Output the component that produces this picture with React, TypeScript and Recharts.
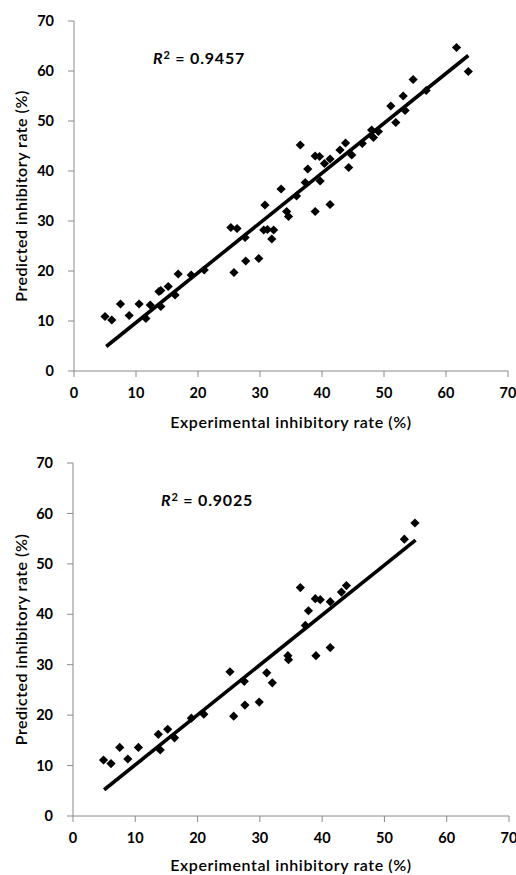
import { Label, Scatter, ScatterChart, XAxis, YAxis } from "recharts";

const AXIS_TICKS = [0, 10, 20, 30, 40, 50, 60, 70];

// training set: experimental vs predicted inhibitory rate (%)
const TRAIN_EXP = [
  5.0, 6.1, 7.5, 8.9, 10.5, 11.6, 12.3, 13.7, 14.0, 14.0, 15.2, 16.3, 16.8, 18.9,
  21.0, 25.3, 26.3, 25.8, 27.6, 27.7, 29.8, 30.8, 30.6, 31.2, 32.2, 31.9, 33.4,
  34.3, 34.6, 35.9, 36.5, 37.3, 37.7, 38.9, 39.6, 38.9, 39.7, 40.4, 41.3, 41.3,
  42.9, 43.8, 44.8, 44.3, 46.5, 48.0, 48.3, 49.1, 51.9, 51.1, 53.1, 53.4, 54.7,
  56.8, 61.7, 63.6,
];
const TRAIN_PRED = [
  10.9, 10.2, 13.4, 11.1, 13.4, 10.5, 13.2, 15.9, 16.1, 12.9, 16.9, 15.2, 19.4, 19.2,
  20.2, 28.7, 28.5, 19.7, 26.7, 22.0, 22.5, 33.2, 28.2, 28.3, 28.2, 26.4, 36.4,
  31.9, 30.9, 35.0, 45.2, 37.7, 40.4, 43.0, 42.9, 31.9, 38.0, 41.5, 42.4, 33.3,
  44.2, 45.6, 43.2, 40.7, 45.5, 48.2, 46.7, 47.9, 49.7, 53.0, 55.0, 52.1, 58.3,
  56.1, 64.7, 59.9,
];

// test set
const TEST_EXP = [
  4.9, 6.1, 7.5, 8.8, 10.5, 13.7, 14.0, 15.2, 16.3, 19.0, 21.0, 25.2, 25.8, 27.6,
  27.5, 29.9, 31.1, 32.0, 34.5, 34.6, 36.5, 37.3, 37.8, 38.9, 39.7, 39.0, 41.3,
  41.3, 43.1, 43.9, 53.2, 54.9,
];
const TEST_PRED = [
  11.1, 10.4, 13.6, 11.3, 13.6, 16.2, 13.1, 17.2, 15.5, 19.4, 20.2, 28.6, 19.8, 22.0,
  26.7, 22.6, 28.4, 26.4, 31.8, 31.0, 45.3, 37.8, 40.7, 43.1, 42.9, 31.8, 42.5,
  33.4, 44.4, 45.7, 54.9, 58.1,
];

// fitted trend line end points
const TRAIN_FIT_X = [5.2, 63.6];
const TRAIN_FIT_Y = [4.9, 63.1];
const TEST_FIT_X = [5.0, 55.0];
const TEST_FIT_Y = [5.2, 54.7];

const zip = (xs: number[], ys: number[]) => xs.map((x, i) => ({ x, y: ys[i] }));

const FONT = "Lato, 'Open Sans', sans-serif";
const AXIS_GRAY = "#8a8a8a";
const tickStyle = { fill: "#000", fontSize: 14.5, fontWeight: 700, fontFamily: FONT };

const Diamond = (props: any) => {
  const { cx, cy } = props;
  if (cx == null || cy == null) return <g />;
  const r = 4.6;
  return (
    <path
      d={`M${cx},${cy - r}L${cx + r},${cy}L${cx},${cy + r}L${cx - r},${cy}Z`}
      fill="#000"
    />
  );
};

type PanelProps = {
  points: { x: number; y: number }[];
  fit: { x: number; y: number }[];
  height: number;
  margin: { top: number; right: number; left: number; bottom: number };
  yWidth: number;
  xHeight: number;
  titleOffset: number;
};

function Panel({ points, fit, height, margin, yWidth, xHeight, titleOffset }: PanelProps) {
  return (
    <ScatterChart width={516} height={height} margin={margin}>
      <XAxis
        type="number"
        dataKey="x"
        domain={[0, 70]}
        ticks={AXIS_TICKS}
        interval={0}
        height={xHeight}
        tickSize={6}
        tickMargin={11}
        tick={tickStyle}
        stroke={AXIS_GRAY}
        tickLine={{ stroke: AXIS_GRAY }}
        allowDataOverflow
      >
        <Label
          content={({ viewBox }: any) => (
            <text
              x={viewBox.x + viewBox.width / 2}
              y={viewBox.y + titleOffset}
              textAnchor="middle"
              fontSize={16}
              fontWeight={600}
              letterSpacing={0.6}
              fontFamily={FONT}
              fill="#000"
            >
              Experimental inhibitory rate (%)
            </text>
          )}
        />
      </XAxis>
      <YAxis
        type="number"
        dataKey="y"
        domain={[0, 70]}
        ticks={AXIS_TICKS}
        interval={0}
        width={yWidth}
        tickSize={6}
        tickMargin={14}
        tick={tickStyle}
        stroke={AXIS_GRAY}
        tickLine={{ stroke: AXIS_GRAY }}
        allowDataOverflow
      >
        <Label
          content={({ viewBox }: any) => {
            const cx = viewBox.x + 27;
            const cy = viewBox.y + viewBox.height / 2;
            return (
              <text
                x={cx}
                y={cy}
                transform={`rotate(-90 ${cx} ${cy})`}
                textAnchor="middle"
                fontSize={16}
                fontWeight={600}
                letterSpacing={0.5}
                fontFamily={FONT}
                fill="#000"
              >
                Predicted inhibitory rate (%)
              </text>
            );
          }}
        />
      </YAxis>
      <Scatter
        data={fit}
        line={{ stroke: "#000", strokeWidth: 3.6 }}
        shape={() => <g />}
        isAnimationActive={false}
      />
      <Scatter data={points} shape={Diamond} isAnimationActive={false} />
    </ScatterChart>
  );
}

const r2Style: React.CSSProperties = {
  position: "absolute",
  fontFamily: FONT,
  fontWeight: 700,
  fontSize: 16,
  letterSpacing: 0.8,
  lineHeight: "18px",
  color: "#000",
  whiteSpace: "nowrap",
};

function R2({ left, top, value }: { left: number; top: number; value: string }) {
  return (
    <div style={{ ...r2Style, left, top }}>
      <i>R</i>
      <span style={{ fontSize: 11, verticalAlign: "5px" }}>2</span> = {value}
    </div>
  );
}

export default function App() {
  return (
    <div
      style={{
        position: "absolute",
        left: 0,
        top: 0,
        width: 516,
        height: 875,
        background: "#fff",
        overflow: "hidden",
      }}
    >
      <div style={{ position: "absolute", left: 0, top: 0 }}>
        <Panel
          points={zip(TRAIN_EXP, TRAIN_PRED)}
          fit={zip(TRAIN_FIT_X, TRAIN_FIT_Y)}
          height={440}
          margin={{ top: 21, right: 8, left: 0, bottom: 9 }}
          yWidth={74}
          xHeight={60}
          titleOffset={57}
        />
      </div>
      <div style={{ position: "absolute", left: 0, top: 440 }}>
        <Panel
          points={zip(TEST_EXP, TEST_PRED)}
          fit={zip(TEST_FIT_X, TEST_FIT_Y)}
          height={435}
          margin={{ top: 23, right: 7, left: 0, bottom: 0 }}
          yWidth={73}
          xHeight={59}
          titleOffset={55}
        />
      </div>
      <R2 left={153} top={46} value="0.9457" />
      <R2 left={161} top={488} value="0.9025" />
    </div>
  );
}
